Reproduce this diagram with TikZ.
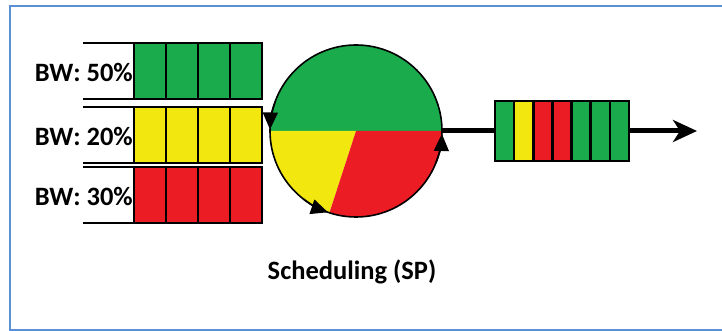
\documentclass[tikz,border=0pt]{standalone}
\usepackage{fontspec}
\setmainfont{Carlito}
\usetikzlibrary{arrows.meta}
\definecolor{qgreen}{HTML}{1AAB4C}
\definecolor{qyellow}{HTML}{F2E80F}
\definecolor{qred}{HTML}{EC1C24}
\definecolor{frameblue}{HTML}{5B8FD6}
\begin{document}
\begin{tikzpicture}[x=1pt,y=1pt,
  qline/.style={line width=2.8pt},
  cellrow/.style={draw, line width=2.8pt, minimum width=128pt, minimum height=56pt, inner sep=0pt, outer sep=0pt},
  lbl/.style={font=\bfseries\fontsize{26.5}{26.5}\selectfont, inner sep=0pt},
  tiparc/.style={-{Triangle[length=17pt,width=15pt]}, line width=1.6pt}]
\useasboundingbox (0,0) rectangle (722,331);
\draw[frameblue, line width=2.5pt] (722,325) -- (10,325) -- (10,1) -- (722,1);
% input queues
\foreach \n/\y/\c/\p in {q1/260/qgreen/50, q2/196/qyellow/20, q3/136/qred/30} {
  \node[cellrow, fill=\c] (\n) at (198,\y) {};
  \foreach \k in {1,2,3}
    \draw[qline] ([xshift=\k*32pt]\n.north west) -- ([xshift=\k*32pt]\n.south west);
  \draw[qline] (\n.north east) -- ([xshift=-51pt]\n.north west);
  \draw[qline] (\n.south east) -- ([xshift=-51pt]\n.south west);
  \node[lbl, anchor=east] (l\n) at ([xshift=-1pt,yshift=-1pt]\n.west) {BW: \p\%};
}
% scheduler
\coordinate (c) at (356,200);
\fill[qgreen] (c) -- ++(0:86) arc (0:180:86) -- cycle;
\fill[qyellow] (c) -- ++(180:86) arc (180:252:86) -- cycle;
\fill[qred] (c) -- ++(252:86) arc (252:360:86) -- cycle;
\node[circle, draw, line width=1.6pt, minimum size=172pt, inner sep=0pt, outer sep=0pt] (sched) at (c) {};
\draw[tiparc] (c) ++(160:86) arc (160:179:86);
\draw[tiparc] (c) ++(232:86) arc (232:251:86);
\draw[tiparc] (c) ++(338:86) arc (338:358:86);
% output queue
\foreach \c [count=\i from 0] in {qgreen,qyellow,qred,qred,qgreen,qgreen,qgreen}
  \filldraw[fill=\c, draw=black, line width=2.5pt] (495+\i*19.143,170) rectangle ++(19.143,60);
\node[draw, line width=2.8pt, minimum width=134pt, minimum height=60pt, inner sep=0pt, outer sep=0pt] (outq) at (562,200) {};
\coordinate (outend) at (697,200);
\draw[line width=5pt] (sched.east) -- (outq.west);
\draw[line width=5pt, -{Stealth[length=24pt,width=22pt,inset=7pt]}] (outq.east) -- (outend);
\node[lbl] (title) at (352,59) {Scheduling (SP)};
\end{tikzpicture}
\end{document}
